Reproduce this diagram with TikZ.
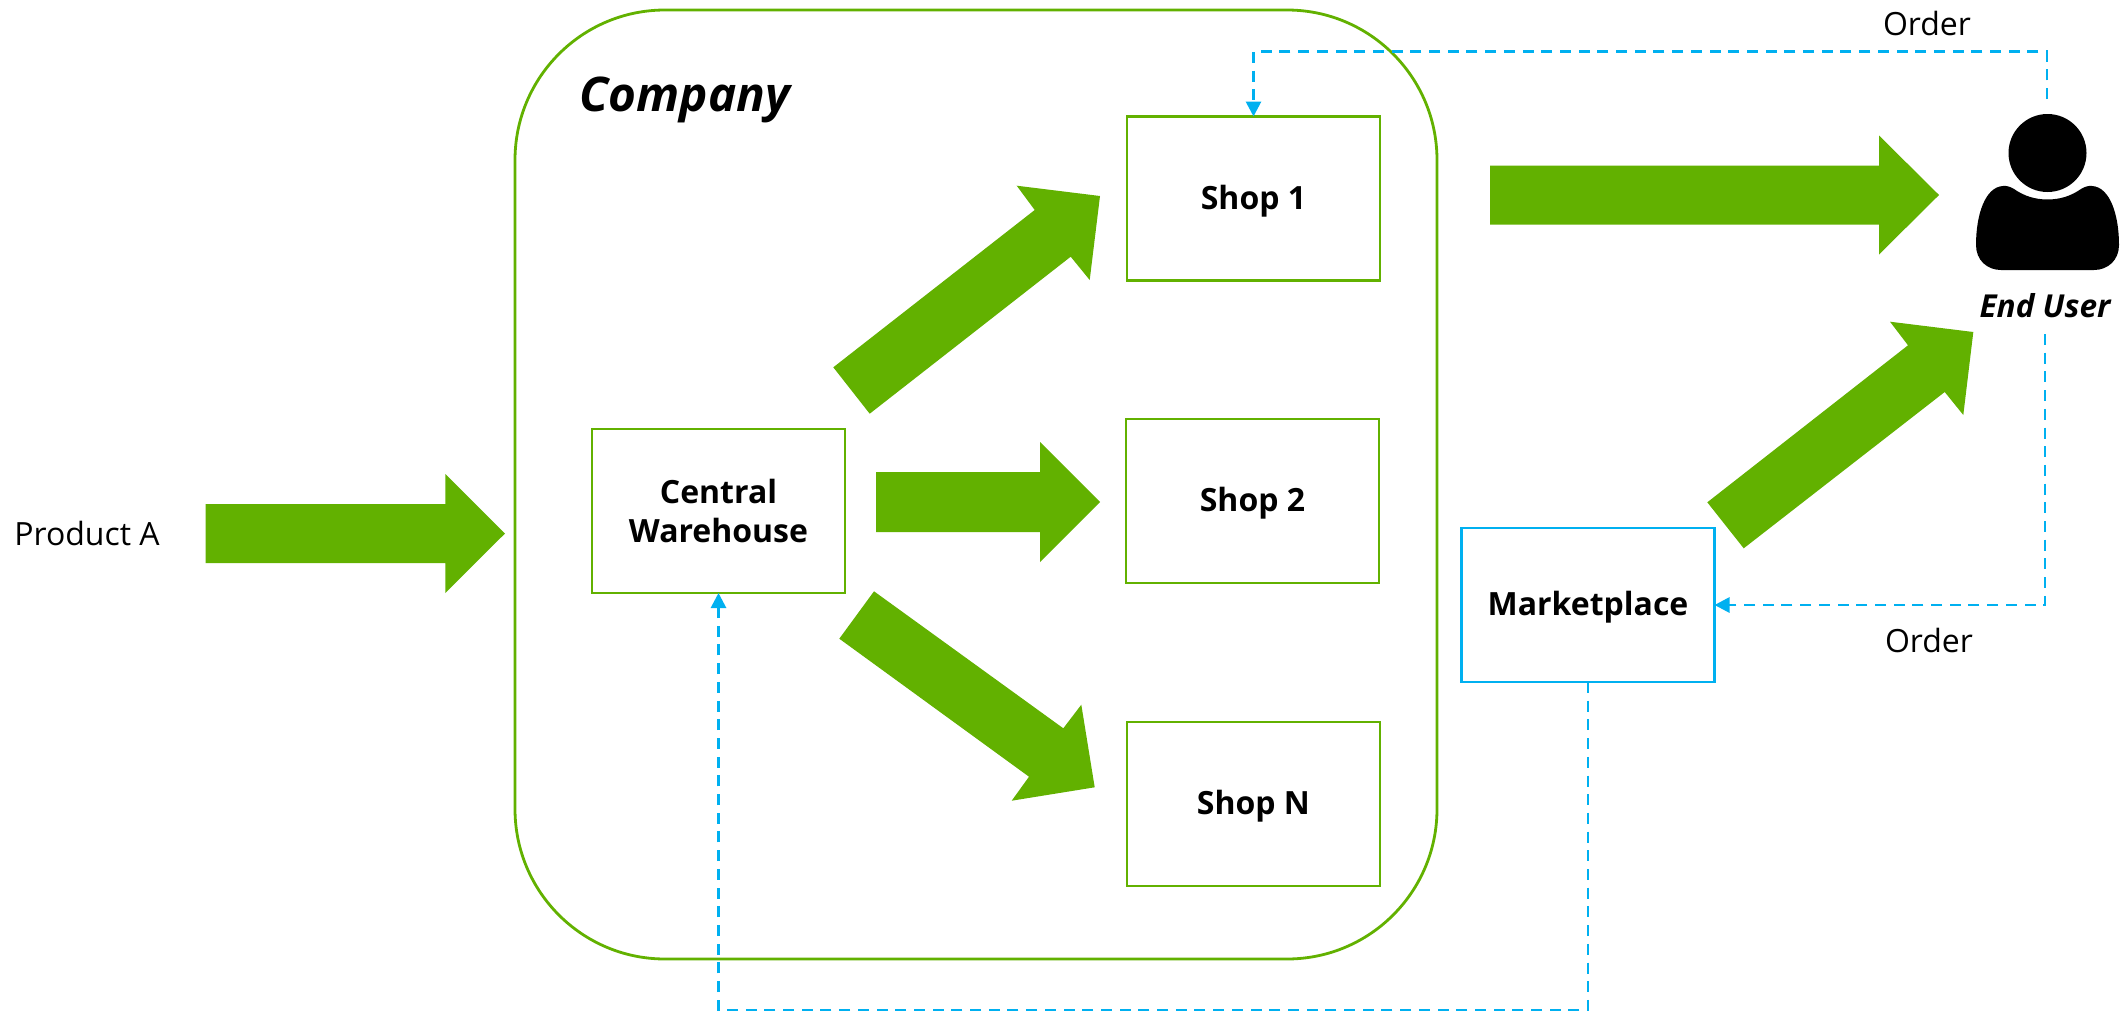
\documentclass[tikz,border=0pt]{standalone}
\usepackage{fontspec}
\setmainfont{Open Sans}
\usetikzlibrary{arrows.meta,positioning}
\definecolor{grn}{HTML}{62B100}
\definecolor{blu}{HTML}{00B0F0}
\tikzset{
  x=1pt,y=-1pt,
  boxbase/.style={draw,line width=2.7pt,inner sep=0pt,outer sep=0pt,align=center,text=black,
    font=\fontsize{32}{39.5}\selectfont\bfseries,minimum width=253pt,minimum height=164pt},
  greenbox/.style={boxbase,draw=grn},
  oneline/.style={text height=25pt,text depth=4pt},
  bluebox/.style={boxbase,oneline,draw=blu,minimum height=154pt},
  plainlabel/.style={inner sep=0pt,outer sep=0pt,font=\fontsize{32}{38}\selectfont},
  fatarrow/.style={fill=grn,draw=none},
  orderline/.style={draw=blu,line width=2.8pt,dash pattern=on 11pt off 7.7pt,
    -{Triangle[length=15pt,width=15pt]}}
}
\begin{document}
\begin{tikzpicture}
\useasboundingbox (0,0) rectangle (2126,1012);
\fill[white] (0,0) rectangle (2126,1012);
% company frame
\node[draw=grn,line width=2.8pt,rounded corners=150pt,minimum width=922pt,minimum height=949pt,inner sep=0pt,outer sep=0pt] (company) at (976,484.5) {};
\node[inner sep=0pt,font=\fontsize{47.7}{54}\selectfont\bfseries\itshape,anchor=center] (companylabel) at (685,100) {Company};
% boxes
\node[greenbox,oneline] (shop1) at (1253.5,198.5) {Shop 1};
\node[greenbox,oneline] (shop2) at (1252.5,501) {Shop 2};
\node[greenbox,oneline] (shopn) at (1253.5,804) {Shop N};
\node[greenbox] (central) at (718.5,511) {Central\\Warehouse};
\node[bluebox] (market) at (1588,605) {Marketplace};
% labels
\node[plainlabel] (producta) at (87,533) {Product A};
\node[plainlabel] (ordertop) at (1927,23) {Order};
\node[plainlabel] (orderbot) at (1929,640) {Order};
\node[inner sep=0pt,font=\fontsize{31.6}{38}\selectfont\bfseries\itshape] (enduser) at (2045,306) {End User};
% user icon
\fill[black] (2047.5,153) circle[radius=39];
\fill[black] (2014,189) .. controls (2024,196) and (2035,199.5) .. (2047.5,199.5)
  .. controls (2060,199.5) and (2071,196) .. (2081,189)
  .. controls (2085,186.5) and (2089,185.5) .. (2092,186)
  .. controls (2110,187) and (2119,215) .. (2119,245)
  .. controls (2119,260) and (2108,270) .. (2094,270)
  -- (2001,270)
  .. controls (1987,270) and (1976,260) .. (1976,245)
  .. controls (1976,215) and (1985,187) .. (2003,186)
  .. controls (2006,185.5) and (2010,186.5) .. (2014,189) -- cycle;
% fat arrows
\path[fatarrow] (205.7,504) -- (445.3,504) -- (445.3,474) -- (505,533.5) -- (445.3,593) -- (445.3,563) -- (205.7,563) -- cycle;
\path[fatarrow] (1490,165.5) -- (1879,165.5) -- (1879,135.5) -- (1939,195) -- (1879,254.5) -- (1879,224.5) -- (1490,224.5) -- cycle;
\path[fatarrow] (876,472) -- (1040,472) -- (1040,442) -- (1100,502) -- (1040,562) -- (1040,532) -- (876,532) -- cycle;
\path[fatarrow] (833.3,367.3) -- (1034.7,210) -- (1016.7,185.7) -- (1100,196) -- (1089.7,280) -- (1070.7,256.7) -- (869.7,413.7) -- cycle;
\path[fatarrow] (874,591.3) -- (1063.3,728.3) -- (1081.3,704.7) -- (1094.7,787.3) -- (1011.7,800.7) -- (1029,776.7) -- (839.3,638.7) -- cycle;
\path[fatarrow] (1707.3,502.3) -- (1908,345.3) -- (1890,321.7) -- (1973.3,332) -- (1963.3,415) -- (1944.7,392) -- (1743.7,548.3) -- cycle;
% order lines
\coordinate (usertop) at (2047,99);
\coordinate (userbot) at (2045,334);
\draw[orderline] (usertop) |- (1253.5,51.5) -- (shop1.north);
\draw[orderline] (userbot) |- (market.east);
\draw[orderline] (market.south) |- (718.5,1010) -- (central.south);
\end{tikzpicture}
\end{document}
